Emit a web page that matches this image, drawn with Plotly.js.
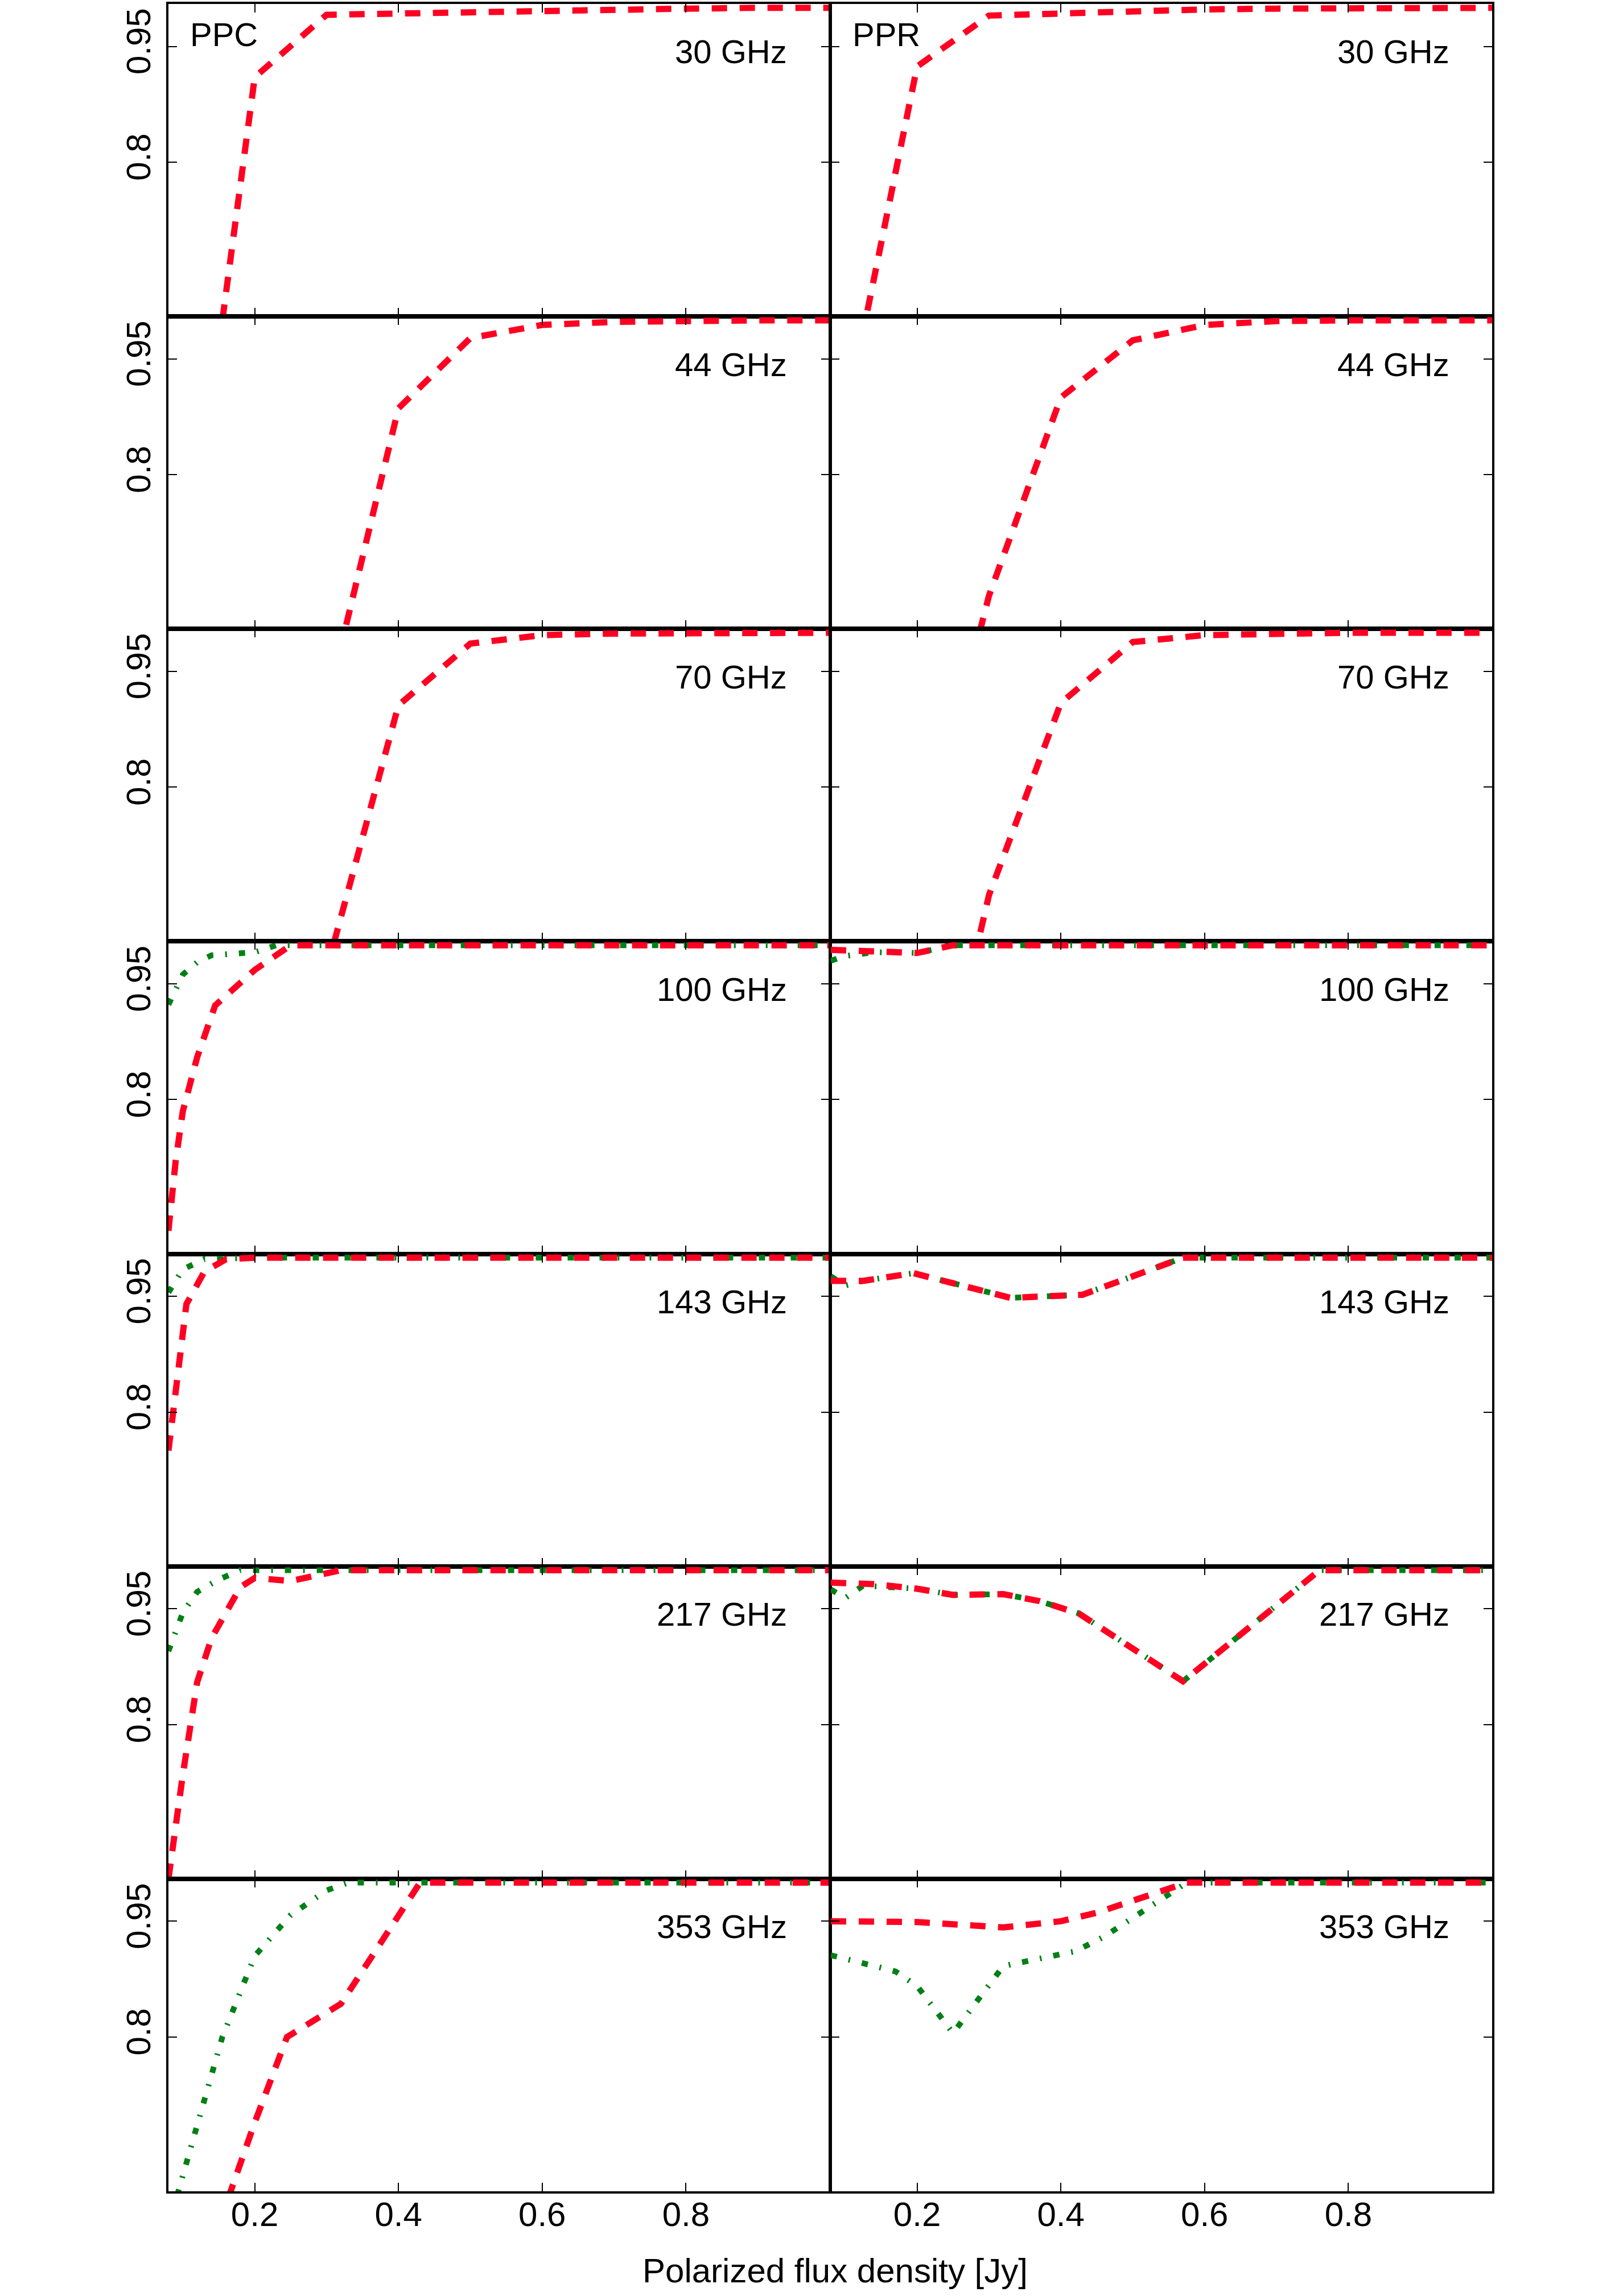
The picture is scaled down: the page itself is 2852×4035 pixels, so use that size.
<!DOCTYPE html>
<html>
<head>
<meta charset="utf-8">
<script src="https://cdn.plot.ly/plotly-3.0.1.min.js"></script>
<style>
    html, body { margin: 0; padding: 0; background: #fff; }
    #plotlyFig { width: 2852px; height: 4035px; }
</style>
</head>
<body>
<div id="plotlyFig"></div>
<script>
// values, one pair of arrays per curve
const freqLabels = ['30 GHz', '44 GHz', '70 GHz', '100 GHz', '143 GHz', '217 GHz', '353 GHz'];
const columnLabels = ['PPC', 'PPR'];
const xTicks = [0.2, 0.4, 0.6, 0.8];
const yTicks = [0.8, 0.95];

// 30 GHz
const ppc30RedX = [0.15, 0.2, 0.3, 0.4, 0.5, 0.6, 0.7, 0.8, 0.9, 1.0];
const ppc30RedY = [0.56, 0.91, 0.991, 0.993, 0.994, 0.996, 0.9975, 0.999, 1.0, 1.0];
const ppr30RedX = [0.1, 0.2, 0.3, 0.4, 0.5, 0.6, 0.7, 0.8, 0.9, 1.0];
const ppr30RedY = [0.466, 0.924, 0.99, 0.993, 0.995, 0.998, 0.999, 1.0, 1.0, 1.0];

// 44 GHz
const ppc44RedX = [0.3, 0.4, 0.5, 0.6, 0.7, 0.8, 0.9, 1.0];
const ppc44RedY = [0.50, 0.886, 0.977, 0.994, 0.998, 1.0, 1.0, 1.0];
const ppr44RedX = [0.2, 0.3, 0.4, 0.5, 0.6, 0.7, 0.8, 0.9, 1.0];
const ppr44RedY = [0.28, 0.643, 0.90, 0.974, 0.994, 0.999, 1.0, 1.0, 1.0];

// 70 GHz
const ppc70RedX = [0.3, 0.4, 0.5, 0.6, 0.7, 0.8, 0.9, 1.0];
const ppc70RedY = [0.563, 0.906, 0.986, 0.997, 0.999, 1.0, 1.0, 1.0];
const ppr70RedX = [0.2, 0.3, 0.4, 0.5, 0.6, 0.7, 0.8, 0.9, 1.0];
const ppr70RedY = [0.26, 0.66, 0.909, 0.988, 0.997, 0.999, 1.0, 1.0, 1.0];

// 100 GHz
const ppc100RedX = [0.08, 0.09, 0.1, 0.12, 0.145, 0.2, 0.25, 0.3, 0.4, 0.5, 0.6, 0.7, 0.8, 0.9, 1.0];
const ppc100RedY = [0.63, 0.72, 0.785, 0.855, 0.922, 0.968, 1.0, 1.0, 1.0, 1.0, 1.0, 1.0, 1.0, 1.0, 1.0];
const ppc100GreenX = [0.08, 0.1, 0.12, 0.14, 0.2, 0.23, 0.3, 0.4, 0.5, 0.6, 0.7, 0.8, 0.9, 1.0];
const ppc100GreenY = [0.923, 0.962, 0.978, 0.987, 0.991, 1.0, 1.0, 1.0, 1.0, 1.0, 1.0, 1.0, 1.0, 1.0];
const ppr100RedX = [0.08, 0.14, 0.2, 0.25, 0.3, 0.4, 0.5, 0.6, 0.7, 0.8, 0.9, 1.0];
const ppr100RedY = [0.994, 0.992, 0.99, 1.0, 1.0, 1.0, 1.0, 1.0, 1.0, 1.0, 1.0, 1.0];
const ppr100GreenX = [0.08, 0.1, 0.14, 0.2, 0.25, 0.3, 0.4, 0.5, 0.6, 0.7, 0.8, 0.9, 1.0];
const ppr100GreenY = [0.98, 0.986, 0.991, 0.99, 1.0, 1.0, 1.0, 1.0, 1.0, 1.0, 1.0, 1.0, 1.0];

// 143 GHz
const ppc143RedX = [0.08, 0.09, 0.105, 0.13, 0.16, 0.2, 0.3, 0.4, 0.5, 0.6, 0.7, 0.8, 0.9, 1.0];
const ppc143RedY = [0.75, 0.83, 0.94, 0.982, 0.998, 1.0, 1.0, 1.0, 1.0, 1.0, 1.0, 1.0, 1.0, 1.0];
const ppc143GreenX = [0.08, 0.1, 0.13, 0.2, 0.3, 0.4, 0.5, 0.6, 0.7, 0.8, 0.9, 1.0];
const ppc143GreenY = [0.955, 0.985, 0.998, 1.0, 1.0, 1.0, 1.0, 1.0, 1.0, 1.0, 1.0, 1.0];
const ppr143RedX = [0.08, 0.125, 0.195, 0.33, 0.43, 0.57, 0.6, 0.7, 0.8, 0.9, 1.0];
const ppr143RedY = [0.970, 0.970, 0.98, 0.948, 0.952, 1.0, 1.0, 1.0, 1.0, 1.0, 1.0];
const ppr143GreenX = [0.08, 0.1, 0.125, 0.195, 0.33, 0.43, 0.57, 0.6, 0.7, 0.8, 0.9, 1.0];
const ppr143GreenY = [0.976, 0.964, 0.970, 0.98, 0.948, 0.952, 1.0, 1.0, 1.0, 1.0, 1.0, 1.0];

// 217 GHz
const ppc217RedX = [0.08, 0.1, 0.12, 0.14, 0.18, 0.2, 0.25, 0.32, 0.4, 0.5, 0.6, 0.7, 0.8, 0.9, 1.0];
const ppc217RedY = [0.60, 0.735, 0.855, 0.912, 0.978, 0.99, 0.986, 1.0, 1.0, 1.0, 1.0, 1.0, 1.0, 1.0, 1.0];
const ppc217GreenX = [0.08, 0.1, 0.12, 0.15, 0.18, 0.2, 0.3, 0.4, 0.5, 0.6, 0.7, 0.8, 0.9, 1.0];
const ppc217GreenY = [0.895, 0.945, 0.972, 0.988, 1.0, 1.0, 1.0, 1.0, 1.0, 1.0, 1.0, 1.0, 1.0, 1.0];
const ppr217RedX = [0.08, 0.14, 0.2, 0.25, 0.32, 0.37, 0.425, 0.57, 0.76, 0.8, 0.9, 1.0];
const ppr217RedY = [0.984, 0.982, 0.976, 0.968, 0.969, 0.96, 0.944, 0.856, 1.0, 1.0, 1.0, 1.0];
const ppr217GreenX = [0.08, 0.1, 0.125, 0.2, 0.25, 0.32, 0.37, 0.425, 0.57, 0.76, 0.8, 0.9, 1.0];
const ppr217GreenY = [0.975, 0.964, 0.98, 0.976, 0.968, 0.969, 0.96, 0.944, 0.856, 1.0, 1.0, 1.0, 1.0];

// 353 GHz
const ppc353RedX = [0.15, 0.2, 0.245, 0.32, 0.43, 0.5, 0.6, 0.7, 0.8, 0.9, 1.0];
const ppc353RedY = [0.556, 0.689, 0.80, 0.843, 1.0, 1.0, 1.0, 1.0, 1.0, 1.0, 1.0];
const ppc353GreenX = [0.08, 0.1, 0.155, 0.2, 0.25, 0.3, 0.33, 0.4, 0.5, 0.6, 0.7, 0.8, 0.9, 1.0];
const ppc353GreenY = [0.555, 0.62, 0.80, 0.905, 0.958, 0.99, 1.0, 1.0, 1.0, 1.0, 1.0, 1.0, 1.0, 1.0];
const ppr353RedX = [0.08, 0.2, 0.32, 0.4, 0.45, 0.575, 0.6, 0.7, 0.8, 0.9, 1.0];
const ppr353RedY = [0.95, 0.949, 0.942, 0.95, 0.961, 1.0, 1.0, 1.0, 1.0, 1.0, 1.0];
const ppr353GreenX = [0.08, 0.17, 0.2, 0.25, 0.32, 0.42, 0.46, 0.575, 0.6, 0.7, 0.8, 0.9, 1.0];
const ppr353GreenY = [0.906, 0.885, 0.866, 0.805, 0.892, 0.911, 0.93, 1.0, 1.0, 1.0, 1.0, 1.0, 1.0];

// panels in reading order: [PPC, PPR] for each frequency
const panels = [
    [{ red: [ppc30RedX, ppc30RedY] }, { red: [ppr30RedX, ppr30RedY] }],
    [{ red: [ppc44RedX, ppc44RedY] }, { red: [ppr44RedX, ppr44RedY] }],
    [{ red: [ppc70RedX, ppc70RedY] }, { red: [ppr70RedX, ppr70RedY] }],
    [{ red: [ppc100RedX, ppc100RedY], green: [ppc100GreenX, ppc100GreenY] },
     { red: [ppr100RedX, ppr100RedY], green: [ppr100GreenX, ppr100GreenY] }],
    [{ red: [ppc143RedX, ppc143RedY], green: [ppc143GreenX, ppc143GreenY] },
     { red: [ppr143RedX, ppr143RedY], green: [ppr143GreenX, ppr143GreenY] }],
    [{ red: [ppc217RedX, ppc217RedY], green: [ppc217GreenX, ppc217GreenY] },
     { red: [ppr217RedX, ppr217RedY], green: [ppr217GreenX, ppr217GreenY] }],
    [{ red: [ppc353RedX, ppc353RedY], green: [ppc353GreenX, ppc353GreenY] },
     { red: [ppr353RedX, ppr353RedY], green: [ppr353GreenX, ppr353GreenY] }],
];

const W = 2852, H = 4035;
const colLeft = [296, 1460], colWidth = 1162;
const rowTop = 7, rowHeight = 549.14;
const FONT = '"Liberation Sans", Arial, Helvetica, sans-serif';

const data = [];
const layout = {
    width: W,
    height: H,
    margin: { l: 0, r: 0, t: 0, b: 0 },
    paper_bgcolor: '#fff',
    plot_bgcolor: 'rgba(0,0,0,0)',
    showlegend: false,
    font: { family: FONT, color: '#000', size: 60 },
    annotations: [],
};

panels.forEach((row, r) => {
    row.forEach((p, c) => {
        const n = r * 2 + c + 1;
        const sfx = n === 1 ? '' : String(n);
        const x0 = colLeft[c] / W, x1 = (colLeft[c] + colWidth) / W;
        const top = rowTop + r * rowHeight, bot = top + rowHeight;

        layout['xaxis' + sfx] = {
            domain: [x0, x1],
            anchor: 'y' + sfx,
            range: [0.08, 1.0],
            tickvals: xTicks,
            showticklabels: r === panels.length - 1,
            ticklabelstandoff: -15,
            ticks: 'inside', ticklen: 15, tickwidth: 2, tickcolor: '#000',
            showline: true, linewidth: 4, linecolor: '#000', mirror: 'ticks',
            showgrid: false, zeroline: false,
            tickfont: { size: 60, family: FONT, color: '#000' },
        };
        layout['yaxis' + sfx] = {
            domain: [(H - bot) / H, (H - top) / H],
            anchor: 'x' + sfx,
            range: [0.6, 1.005],
            tickvals: yTicks,
            ticktext: ['0.8', '0.95'],
            showticklabels: c === 0,
            tickangle: -90,
            ticklabelstandoff: 4,
            ticks: 'inside', ticklen: 15, tickwidth: 2, tickcolor: '#000',
            showline: true, linewidth: 4, linecolor: '#000', mirror: 'ticks',
            showgrid: false, zeroline: false,
            tickfont: { size: 60, family: FONT, color: '#000' },
        };

        if (p.green) {
            data.push({
                x: p.green[0], y: p.green[1],
                xaxis: 'x' + sfx, yaxis: 'y' + sfx,
                type: 'scatter', mode: 'lines',
                line: { color: '#008014', width: 10, dash: '11px,21px,3px,21px' },
                hoverinfo: 'skip',
            });
        }
        data.push({
            x: p.red[0], y: p.red[1],
            xaxis: 'x' + sfx, yaxis: 'y' + sfx,
            type: 'scatter', mode: 'lines',
            line: { color: '#ff0022', width: 11, dash: '27px,22px' },
            hoverinfo: 'skip',
        });

        layout.annotations.push({
            text: freqLabels[r],
            xref: 'paper', yref: 'paper',
            x: (colLeft[c] + colWidth - 73) / W, xanchor: 'right',
            y: (H - (top + 84)) / H, yanchor: 'middle',
            showarrow: false,
            font: { size: 58, family: FONT, color: '#000' },
        });
        if (r === 0) {
            layout.annotations.push({
                text: columnLabels[c],
                xref: 'paper', yref: 'paper',
                x: (colLeft[c] + 36) / W, xanchor: 'left',
                y: (H - (top + 54)) / H, yanchor: 'middle',
                showarrow: false,
                font: { size: 58, family: FONT, color: '#000' },
            });
        }
    });
});

layout.annotations.push({
    text: 'Polarized flux density [Jy]',
    xref: 'paper', yref: 'paper',
    x: 1468 / W, xanchor: 'center',
    y: (H - 3990) / H, yanchor: 'middle',
    showarrow: false,
    font: { size: 60, family: FONT, color: '#000' },
});

Plotly.newPlot('plotlyFig', data, layout, { displayModeBar: false, staticPlot: true });
</script>
</body>
</html>
